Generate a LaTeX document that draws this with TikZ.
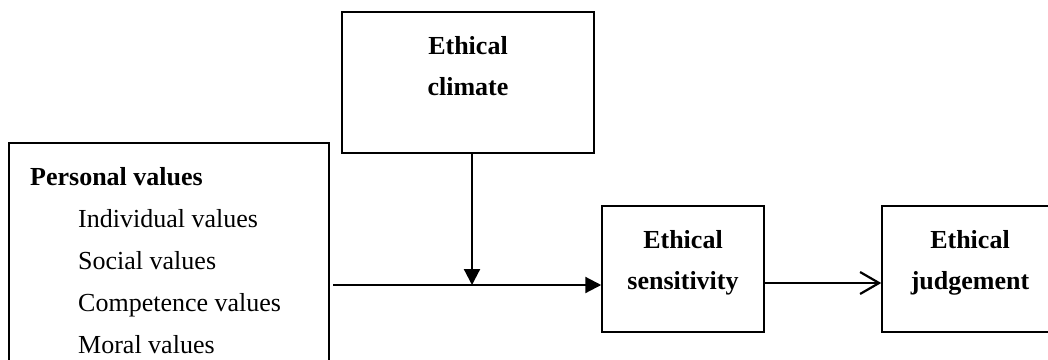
\documentclass[tikz,border=0pt]{standalone}
\usepackage{fontspec}
\setmainfont{Liberation Serif}
\usetikzlibrary{arrows.meta}
\begin{document}
\begin{tikzpicture}[x=1pt,y=-1pt,
  box/.style={draw=black,line width=1.5pt,rectangle,inner sep=0pt},
  txt/.style={inner sep=0pt,anchor=base,font=\fontsize{26}{30}\selectfont},
  ltxt/.style={inner sep=0pt,anchor=base west,font=\fontsize{26}{30}\selectfont},
  conn/.style={line width=2.2pt},
  solidtip/.style={-{Triangle[length=16pt,width=16pt]}},
  opentip/.style={-{Straight Barb[length=19pt,width=22pt,line width=2.2pt]}}]
\useasboundingbox (0,0) rectangle (1048,359);
\clip (0,0) rectangle (1048,359);
% boxes
\node[box,minimum width=252pt,minimum height=141pt] (climate) at (468,82.5) {};
\node[box,minimum width=320pt,minimum height=227pt] (pv) at (169,256.5) {};
\node[box,minimum width=162pt,minimum height=126pt] (sens) at (683,269) {};
\node[box,minimum width=176pt,minimum height=126pt] (judg) at (970,269) {};
% texts
\node[txt] (c1) at (468,54) {\bfseries Ethical};
\node[txt] (c2) at (468,95) {\bfseries climate};
\node[ltxt] (p0) at (30,185) {\bfseries Personal values};
\node[ltxt] (p1) at (78,227) {Individual values};
\node[ltxt] (p2) at (78,269) {Social values};
\node[ltxt] (p3) at (78,311) {Competence values};
\node[ltxt] (p4) at (78,353) {Moral values};
\node[txt] (s1) at (683,248) {\bfseries Ethical};
\node[txt] (s2) at (683,289) {\bfseries sensitivity};
\node[txt] (j1) at (970,248) {\bfseries Ethical};
\node[txt] (j2) at (970,289) {\bfseries judgement};
% connectors
\coordinate (start) at (333,285);
\coordinate (join) at (472,285);
\coordinate (ctop) at (472,153);
\coordinate (send) at (603,285);
\coordinate (sout) at (765,283);
\draw[conn,solidtip] (ctop) -- (join);
\draw[conn,solidtip] (start) -- (send -| sens.west);
\draw[conn,opentip] (sout) -- (sout -| judg.west);
\end{tikzpicture}
\end{document}
